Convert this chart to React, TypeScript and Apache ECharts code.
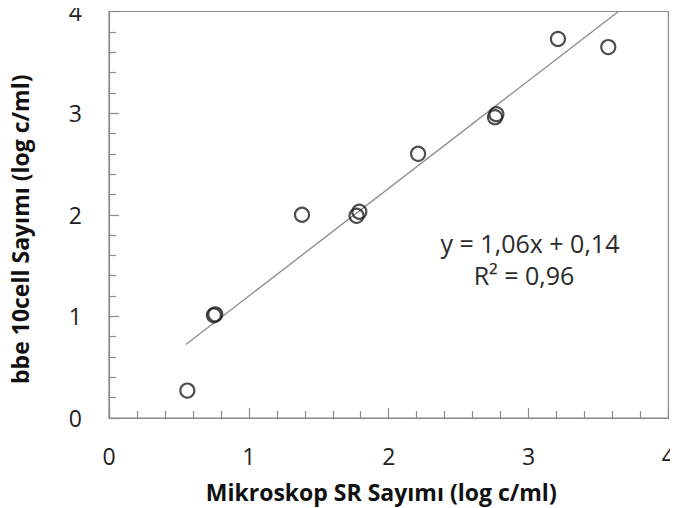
import React, { useEffect, useRef } from "react";
import * as echarts from "echarts";

const xValues = [0.56, 0.75, 0.76, 1.38, 1.77, 1.79, 2.21, 2.76, 2.77, 3.21, 3.57];
const yValues = [0.27, 1.01, 1.02, 2.0, 1.99, 2.03, 2.6, 2.96, 2.99, 3.73, 3.65];
const slope = 1.06;
const intercept = 0.14;
const trendX = [0.55, 3.64];
const xTicks = [0, 1, 2, 3, 4];
const equationText = "y = 1,06x + 0,14";
const r2Text = "R² = 0,96";
const xTitle = "Mikroskop SR Sayımı (log c/ml)";
const yTitle = "bbe 10cell Sayımı (log c/ml)";

const FONT = "'Open Sans', 'Noto Sans', sans-serif";

export default function App() {
  const ref = useRef<HTMLDivElement>(null);
  useEffect(() => {
    if (!ref.current) return;
    const chart = echarts.init(ref.current, undefined, { renderer: "svg" });
    const points = xValues.map((x, i) => [x, yValues[i]]);
    const trend = trendX.map((x) => [x, slope * x + intercept]);
    const axisCommon = {
      type: "value" as const,
      min: xTicks[0],
      max: xTicks[xTicks.length - 1],
      interval: 1,
      axisLine: { show: true, lineStyle: { color: "#8a8a8a", width: 1.2 } },
      axisTick: { show: true, inside: true, length: 10, lineStyle: { color: "#8a8a8a", width: 1.2 } },
      minorTick: { show: true, splitNumber: 5, length: 7, lineStyle: { color: "#8a8a8a", width: 1.2 } },
      splitLine: { show: false },
      minorSplitLine: { show: false },
    };
    chart.setOption({
      animation: false,
      backgroundColor: "#ffffff",
      textStyle: { fontFamily: FONT },
      grid: {
        left: 108,
        right: 9,
        top: 11,
        bottom: 90,
        show: true,
        borderColor: "#8a8a8a",
        borderWidth: 1.2,
        backgroundColor: "transparent",
      },
      xAxis: {
        ...axisCommon,
        axisLabel: { fontSize: 23, color: "#222", margin: 26, fontFamily: FONT },
        name: xTitle,
        nameLocation: "middle",
        nameGap: 62,
        nameTextStyle: {
          fontSize: 23,
          fontWeight: "bold",
          color: "#111",
          fontFamily: FONT,
          padding: [0, 15, 0, 0],
        },
      },
      yAxis: {
        ...axisCommon,
        axisLabel: { fontSize: 23, color: "#222", margin: 27, fontFamily: FONT },
        name: yTitle,
        nameLocation: "middle",
        nameGap: 78,
        nameRotate: 90,
        nameTextStyle: {
          fontSize: 23,
          fontWeight: "bold",
          color: "#111",
          fontFamily: FONT,
          padding: [0, 29, 0, 0],
        },
      },
      series: [
        {
          type: "line",
          data: trend,
          symbol: "none",
          lineStyle: { color: "#8a8a8a", width: 1.3 },
          silent: true,
          z: 1,
        },
        {
          type: "scatter",
          data: points,
          symbol: "circle",
          symbolSize: 14,
          itemStyle: { color: "transparent", borderColor: "#222", borderWidth: 2.2 },
          z: 2,
        },
      ],
      graphic: [
        {
          type: "text",
          x: 530,
          y: 243,
          style: {
            text: equationText,
            fontSize: 25,
            fill: "#2a2a2a",
            fontFamily: FONT,
            align: "center",
            verticalAlign: "middle",
          },
        },
        {
          type: "text",
          x: 524,
          y: 275,
          style: {
            text: r2Text,
            fontSize: 25,
            fill: "#2a2a2a",
            fontFamily: FONT,
            align: "center",
            verticalAlign: "middle",
          },
        },
      ],
    });
    return () => chart.dispose();
  }, []);
  return <div ref={ref} style={{ width: 678, height: 508, marginLeft: -8, marginTop: -8 }} />;
}
